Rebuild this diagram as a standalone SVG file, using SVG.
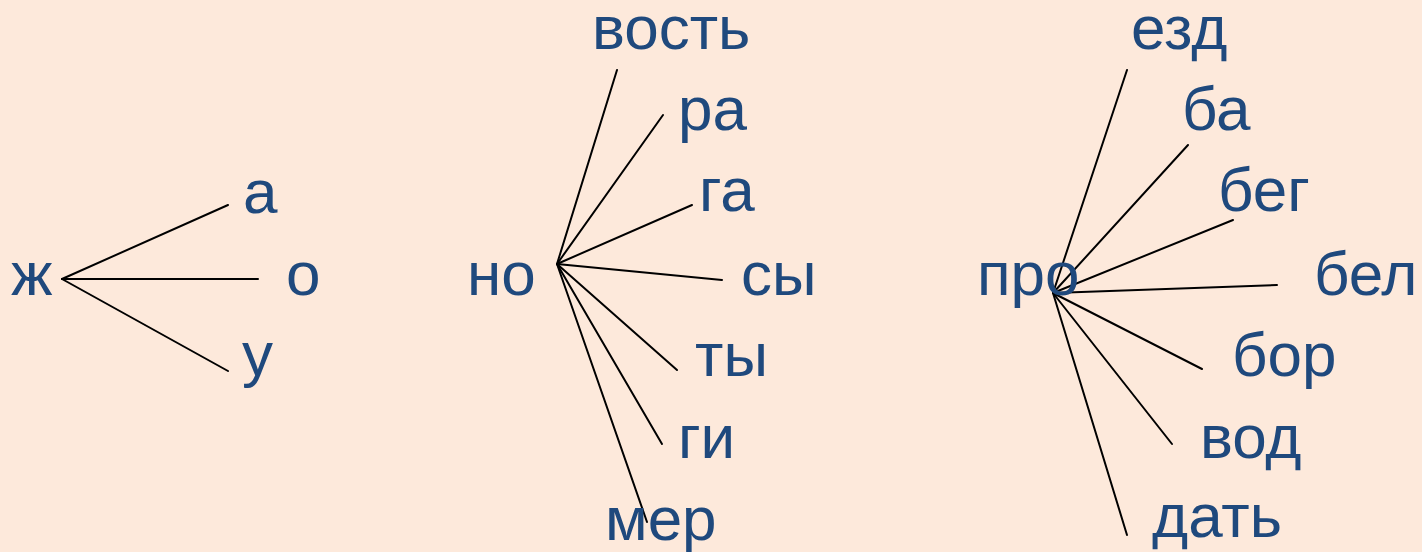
<svg xmlns="http://www.w3.org/2000/svg" width="1422" height="552" viewBox="0 0 1422 552">
<style>
.t{font-family:"Liberation Sans",Arial,sans-serif;font-size:62px;fill:#1F497D}
.c line{stroke:#000;stroke-width:2;stroke-linecap:round}
</style>
<rect width="1422" height="552" fill="#FDE9DB"/>
<g class="c" id="connectors">
<line x1="62" y1="279" x2="228" y2="205"/>
<line x1="62" y1="279" x2="258" y2="279"/>
<line x1="62" y1="279" x2="228" y2="371"/>
<line x1="557" y1="264" x2="617" y2="70"/>
<line x1="557" y1="264" x2="663" y2="115"/>
<line x1="557" y1="264" x2="692" y2="205"/>
<line x1="557" y1="264" x2="722" y2="280"/>
<line x1="557" y1="264" x2="677" y2="370"/>
<line x1="557" y1="264" x2="662" y2="444"/>
<line x1="557" y1="264" x2="647" y2="522"/>
<line x1="1053" y1="293" x2="1127" y2="70"/>
<line x1="1053" y1="293" x2="1188" y2="145"/>
<line x1="1053" y1="293" x2="1233" y2="220"/>
<line x1="1053" y1="293" x2="1277" y2="285"/>
<line x1="1053" y1="293" x2="1202" y2="369"/>
<line x1="1053" y1="293" x2="1172" y2="444"/>
<line x1="1053" y1="293" x2="1127" y2="535"/>
</g>
<g id="n-zh"><text class="t" x="11" y="295">ж</text></g>
<g id="n-a"><text class="t" x="243" y="213">а</text></g>
<g id="n-o"><text class="t" x="286" y="295">о</text></g>
<g id="n-u"><text class="t" x="242" y="375">у</text></g>
<g id="n-no"><text class="t" x="467" y="295">но</text></g>
<g id="n-vost"><text class="t" x="592" y="49">вость</text></g>
<g id="n-ra"><text class="t" x="678" y="130">ра</text></g>
<g id="n-ga"><text class="t" x="699" y="211">га</text></g>
<g id="n-sy"><text class="t" x="741" y="295">сы</text></g>
<g id="n-ty"><text class="t" x="695" y="376">ты</text></g>
<g id="n-gi"><text class="t" x="678" y="458">ги</text></g>
<g id="n-mer"><text class="t" x="605" y="540">мер</text></g>
<g id="n-pro"><text class="t" x="977" y="295">про</text></g>
<g id="n-ezd"><text class="t" x="1131" y="49">езд</text></g>
<g id="n-ba"><text class="t" x="1182" y="130">ба</text></g>
<g id="n-beg"><text class="t" x="1218" y="211">бег</text></g>
<g id="n-bel"><text class="t" x="1314" y="295">бел</text></g>
<g id="n-bor"><text class="t" x="1232" y="376">бор</text></g>
<g id="n-vod"><text class="t" x="1200" y="458">вод</text></g>
<g id="n-dat"><text class="t" x="1152" y="537">дать</text></g>
</svg>
